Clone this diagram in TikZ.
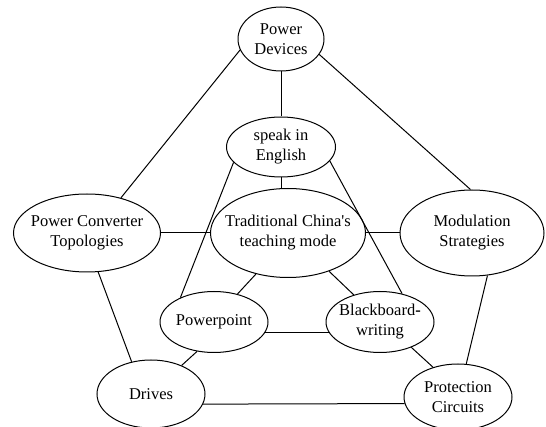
\documentclass[tikz,border=0pt]{standalone}
\usepackage{fontspec}
\setmainfont{Liberation Serif}[Ligatures=TeXOff]
\usetikzlibrary{shapes.geometric}
\begin{document}
\begin{tikzpicture}[x=1pt,y=-1pt,
  topic/.style={ellipse, draw, line width=1pt, inner sep=0pt},
  txt/.style={align=center, font=\fontsize{16.5}{20}\selectfont, inner sep=0pt},
  link/.style={line width=1pt}]
\useasboundingbox (0,0) rectangle (546,427);

% topics
\node[topic, minimum width=86pt, minimum height=64pt,
      label={[txt]center:Power\\Devices}] (pd) at (281,39) {};
\node[topic, minimum width=109pt, minimum height=60pt,
      label={[txt]center:speak in\\English}] (spk) at (281,147) {};
\node[topic, minimum width=147pt, minimum height=78pt,
      label={[txt]center:Power Converter\\Topologies}] (pct) at (87,233) {};
\node[topic, minimum width=155pt, minimum height=89pt,
      label={[txt]center:Traditional China's\\teaching mode}] (trad) at (288,233) {};
\node[topic, minimum width=144pt, minimum height=86pt,
      label={[txt]center:Modulation\\Strategies}] (mod) at (472,233) {};
\node[topic, minimum width=108pt, minimum height=61pt,
      label={[txt]center:Powerpoint}] (pp) at (214,322) {};
\node[topic, minimum width=108pt, minimum height=61pt,
      label={[txt]center:Blackboard\textbf{-}\\writing}] (bb) at (380,322) {};
\node[topic, minimum width=108pt, minimum height=68pt,
      label={[txt]center:Drives}] (drv) at (151,394) {};
\node[topic, minimum width=108pt, minimum height=66pt,
      label={[txt]center:Protection\\Circuits}] (prot) at (458,397) {};

% connections
\draw[link] (pd.south) -- (spk.north);
\draw[link] (pd.195) -- (pct.46);
\draw[link] (pd.-22) -- (mod.92);
\draw[link] (pct.east) -- (trad.west);
\draw[link] (trad.east) -- (mod.west);
\draw[link] (spk.south) -- (spk.south |- trad.north);
\draw[link] (spk.198) -- (pp.144);
\draw[link] (spk.-16) -- (bb.52);
\draw[link] (trad.232) -- (pp.50);
\draw[link] (trad.-43) -- (bb.134);
\draw[link] (pp.-12) -- (bb.192);
\draw[link] (pct.-74) -- (drv.121);
\draw[link] (pp.240) -- (drv.43);
\draw[link] (bb.-39) -- (prot.130);
\draw[link] (mod.-70) -- (prot.76);
\draw[link] (drv.-11) -- (prot.187);
\end{tikzpicture}
\end{document}
